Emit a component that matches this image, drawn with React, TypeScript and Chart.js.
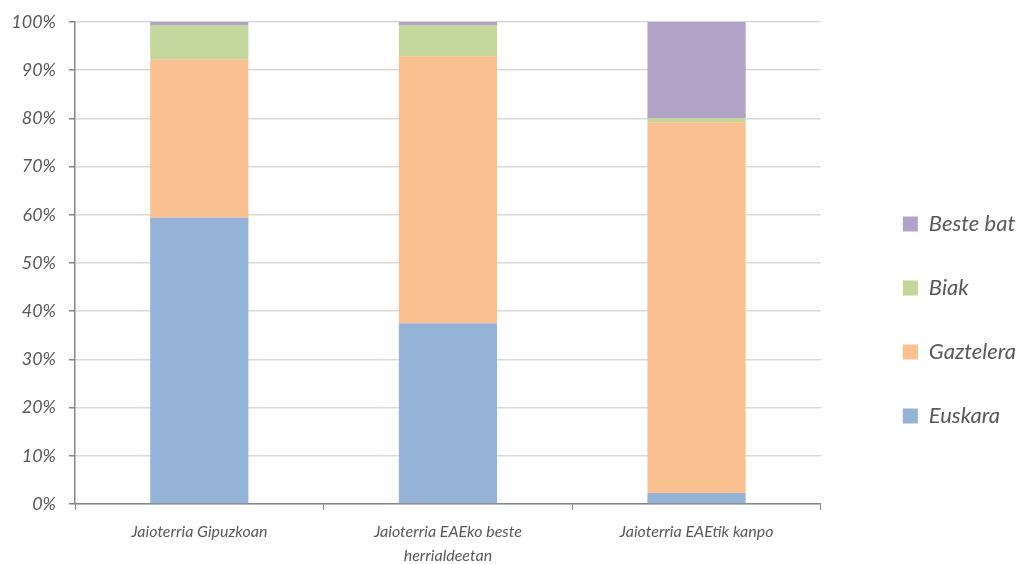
import React, { useEffect, useRef } from 'react';
import { Chart, registerables } from 'chart.js';

Chart.register(...registerables);

const categories: string[][] = [
  ['Jaioterria Gipuzkoan'],
  ['Jaioterria EAEko beste', 'herrialdeetan'],
  ['Jaioterria EAEtik kanpo'],
];
const euskara = [59.4, 37.5, 2.3];
const gaztelera = [32.8, 55.4, 76.9];
const biak = [7.2, 6.5, 0.9];
const besteBat = [0.6, 0.6, 19.9];
const seriesNames = ['Euskara', 'Gaztelera', 'Biak', 'Beste bat'];
const seriesColors = ['#95B3D7', '#FAC090', '#C3D69B', '#B3A2C7'];

const FONT = 'Lato, "Noto Sans", sans-serif';
const TEXT = '#595959';
const AXIS = '#868686';
const GRID = '#D9D9D9';

export default function App() {
  const ref = useRef<HTMLCanvasElement | null>(null);

  useEffect(() => {
    if (!ref.current) return;
    const values = [euskara, gaztelera, biak, besteBat];
    const chart = new Chart(ref.current, {
      type: 'bar',
      data: {
        labels: categories,
        datasets: values.map((v, i) => ({
          label: seriesNames[i],
          data: v,
          backgroundColor: seriesColors[i],
          borderWidth: 0,
          barPercentage: 0.395,
          categoryPercentage: 1,
        })),
      },
      options: {
        animation: false,
        responsive: true,
        maintainAspectRatio: false,
        layout: { padding: { left: 0, top: 4, right: 0, bottom: 0 } },
        plugins: {
          tooltip: { enabled: false },
          legend: {
            position: 'right',
            reverse: true,
            title: { display: true, text: '', font: { size: 10, lineHeight: 1 }, padding: { top: 62, bottom: 0 } },
            labels: {
              boxWidth: 15,
              boxHeight: 15,
              padding: 42,
              color: TEXT,
              font: { family: FONT, size: 22, style: 'italic' },
            },
          },
        },
        scales: {
          x: {
            stacked: true,
            grid: { offset: true, drawOnChartArea: false, drawTicks: true, tickLength: 6, tickColor: AXIS },
            border: { color: AXIS, width: 1.5 },
            ticks: { color: TEXT, padding: 10, maxRotation: 0, font: { family: FONT, size: 16, style: 'italic', lineHeight: 1.5 } },
            afterFit: (s: any) => { s.height = 60; },
          },
          y: {
            stacked: true,
            min: 0,
            max: 100,
            grid: { color: GRID, lineWidth: 1.5, tickColor: AXIS, tickLength: 6 },
            border: { color: AXIS, width: 1.5 },
            ticks: {
              stepSize: 10,
              padding: 13,
              color: TEXT,
              font: { family: FONT, size: 18, style: 'italic', lineHeight: 1 },
              callback: (v: any) => v + '%',
            },
            afterFit: (s: any) => { s.width = 75; },
          },
          yR: {
            type: 'linear',
            position: 'right',
            display: true,
            grid: { display: false, drawTicks: false },
            border: { display: false },
            ticks: { display: false },
            afterFit: (s: any) => { s.width = 40; },
          },
        },
      } as any,
    });
    return () => chart.destroy();
  }, []);

  return (
    <div style={{ position: 'fixed', left: 0, top: 0, width: 1026, height: 564, background: '#fff' }}>
      <canvas ref={ref} />
    </div>
  );
}
